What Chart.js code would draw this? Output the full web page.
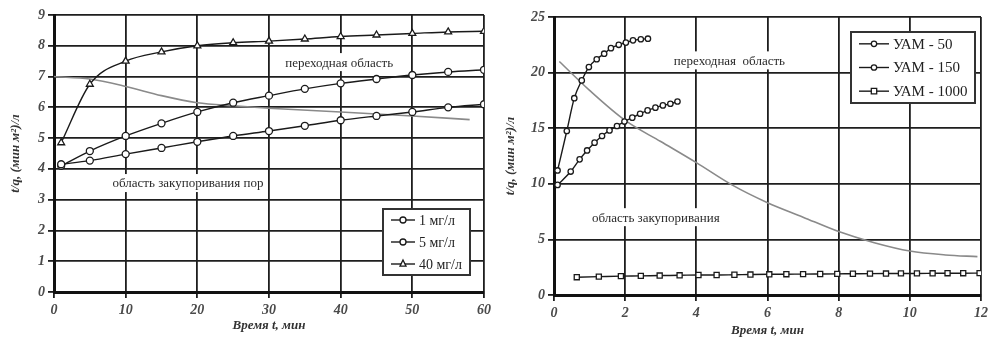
<!DOCTYPE html>
<html>
<head>
<meta charset="utf-8">
<script src="https://cdn.jsdelivr.net/npm/chart.js@4.4.0/dist/chart.umd.min.js"></script>
<style>
  html, body { margin:0; padding:0; background:#fff; }
  .wrap { position:absolute; top:0; height:338px; }
</style>
</head>
<body>
<div class="wrap" style="left:0;width:495px;"><canvas id="leftChart"></canvas></div>
<div class="wrap" style="left:495px;width:497px;"><canvas id="rightChart"></canvas></div>
<script>
// ---- left chart data (time, min) ----
const timeL = [1, 5, 10, 15, 20, 25, 30, 35, 40, 45, 50, 55, 60];
const mg1  = [4.15, 4.27, 4.48, 4.68, 4.88, 5.07, 5.23, 5.40, 5.58, 5.72, 5.85, 6.00, 6.10];
const mg5  = [4.10, 4.58, 5.07, 5.48, 5.85, 6.15, 6.38, 6.60, 6.78, 6.92, 7.05, 7.15, 7.22];
const mg40 = [4.85, 6.75, 7.50, 7.80, 8.00, 8.10, 8.15, 8.22, 8.30, 8.35, 8.40, 8.45, 8.47];
const borderTimeL = [0, 5, 10, 15, 20, 25, 30, 40, 50, 58];
const borderValL  = [7.00, 6.92, 6.68, 6.38, 6.15, 6.05, 5.97, 5.85, 5.72, 5.60];
const labelsL = ['1 мг/л', '5 мг/л', '40 мг/л'];

// ---- right chart data ----
const time50 = [0.10, 0.36, 0.57, 0.78, 0.98, 1.20, 1.41, 1.60, 1.82, 2.02, 2.22, 2.44, 2.64];
const uam50  = [11.2, 14.75, 17.7, 19.3, 20.5, 21.2, 21.7, 22.2, 22.5, 22.7, 22.9, 23.0, 23.05];
const time150 = [0.10, 0.47, 0.72, 0.93, 1.14, 1.35, 1.56, 1.77, 1.98, 2.20, 2.42, 2.63, 2.85, 3.06, 3.27, 3.47];
const uam150  = [9.9, 11.1, 12.2, 13.0, 13.7, 14.3, 14.8, 15.2, 15.6, 15.95, 16.3, 16.6, 16.85, 17.05, 17.2, 17.4];
const time1000 = [0.64, 1.26, 1.88, 2.44, 2.97, 3.53, 4.06, 4.57, 5.07, 5.52, 6.05, 6.53, 7.00, 7.48, 7.96, 8.40, 8.88, 9.33, 9.75, 10.2, 10.64, 11.06, 11.5, 11.96];
const uam1000  = [1.60, 1.65, 1.70, 1.72, 1.75, 1.77, 1.80, 1.80, 1.82, 1.84, 1.86, 1.87, 1.88, 1.89, 1.90, 1.91, 1.92, 1.93, 1.94, 1.94, 1.95, 1.96, 1.96, 1.97];
const borderTimeR = [0.15, 1, 2, 3, 4, 5, 6, 7, 8, 9, 10, 11, 11.9];
const borderValR  = [21.0, 18.4, 15.7, 13.8, 11.9, 9.9, 8.3, 7.0, 5.7, 4.7, 3.95, 3.6, 3.45];
const labelsR = ['УАМ - 50', 'УАМ - 150', 'УАМ - 1000'];

const yTitle = 't/q, (мин м²)/л';
const xTitle = 'Время t, мин';

const pts = (xs, ys) => xs.map((x, i) => ({ x: x, y: ys[i] }));
const SERIF = "'Liberation Serif', 'DejaVu Serif', serif";

function series(label, xs, ys, style, r) {
  return {
    label: label, data: pts(xs, ys),
    borderColor: '#1a1a1a', borderWidth: 1.4,
    pointStyle: style, pointRadius: r, pointBorderWidth: 1.3,
    pointBackgroundColor: '#fff', pointBorderColor: '#1a1a1a',
    cubicInterpolationMode: 'monotone'
  };
}
function boundary(xs, ys) {
  return { label: '', data: pts(xs, ys), borderColor: '#8a8a8a', borderWidth: 1.6,
    pointRadius: 0, cubicInterpolationMode: 'monotone' };
}

function drawMarker(ctx, style, x, y, r) {
  ctx.beginPath();
  if (style === 'circle') ctx.arc(x, y, r, 0, Math.PI * 2);
  else if (style === 'rect') ctx.rect(x - r, y - r, r * 2, r * 2);
  else { ctx.moveTo(x, y - r - 1); ctx.lineTo(x + r, y + r * 0.7); ctx.lineTo(x - r, y + r * 0.7); ctx.closePath(); }
  ctx.fillStyle = '#fff'; ctx.fill();
  ctx.lineWidth = 1.3; ctx.strokeStyle = '#1a1a1a'; ctx.stroke();
}

// text boxes placed in data coordinates, drawn over grid but under the lines
const notesPlugin = {
  id: 'notes',
  beforeDatasetsDraw(chart) {
    const notes = chart.options.plugins.notes.items;
    const ctx = chart.ctx;
    ctx.save();
    ctx.font = '13px ' + SERIF;
    ctx.textAlign = 'center'; ctx.textBaseline = 'middle';
    notes.forEach(n => {
      const x = chart.scales.x.getPixelForValue(n.x);
      const y = chart.scales.y.getPixelForValue(n.y);
      const w = ctx.measureText(n.text).width;
      ctx.fillStyle = '#fff';
      ctx.fillRect(x - w / 2 - 4, y - 9, w + 8, 18);
      ctx.fillStyle = '#2a2a2a';
      ctx.fillText(n.text, x, y + 1);
    });
    ctx.restore();
  }
};

const boxLegend = {
  id: 'boxLegend',
  afterDraw(chart) {
    const o = chart.options.plugins.boxLegend;
    const a = chart.chartArea, ctx = chart.ctx;
    const bx = o.fromRight ? a.right - o.dx - o.w : a.left + o.dx;
    const by = o.fromBottom ? a.bottom - o.dy - o.h : a.top + o.dy;
    ctx.save();
    ctx.fillStyle = '#fff';
    ctx.fillRect(bx, by, o.w, o.h);
    ctx.lineWidth = 2; ctx.strokeStyle = '#333';
    ctx.strokeRect(bx, by, o.w, o.h);
    ctx.font = o.fontSize + 'px ' + SERIF;
    ctx.textBaseline = 'middle'; ctx.textAlign = 'left';
    o.labels.forEach((t, i) => {
      const y = by + o.h * (i + 0.5) / o.labels.length;
      ctx.beginPath();
      ctx.moveTo(bx + 8, y); ctx.lineTo(bx + 8 + o.line, y);
      ctx.lineWidth = 1.4; ctx.strokeStyle = '#1a1a1a'; ctx.stroke();
      drawMarker(ctx, o.styles[i], bx + 8 + o.line / 2, y, o.r);
      ctx.fillStyle = '#222';
      ctx.fillText(t, bx + 12 + o.line, y + 1);
    });
    ctx.restore();
  }
};

function axes(xmax, xstep, ymax, ystep, yw, xh, xTitlePad) {
  const tickFont = { family: SERIF, size: 14, style: 'italic', weight: 'bold' };
  const titleFont = { family: SERIF, size: 13, style: 'italic', weight: 'bold' };
  return {
    x: {
      type: 'linear', min: 0, max: xmax,
      ticks: { stepSize: xstep, color: '#4a4a4a', font: tickFont, padding: 4, maxRotation: 0 },
      grid: { color: '#1e1e1e', lineWidth: 1.8, tickLength: 6 },
      border: { color: '#111', width: 3 },
      title: { display: true, text: xTitle, color: '#333', font: titleFont, padding: { top: 0, bottom: xTitlePad } },
      afterFit: s => { s.height = xh; }
    },
    y: {
      min: 0, max: ymax,
      ticks: { stepSize: ystep, color: '#4a4a4a', font: tickFont, padding: 3 },
      grid: { color: '#1e1e1e', lineWidth: 1.8, tickLength: 6 },
      border: { color: '#111', width: 3 },
      title: { display: true, text: yTitle, color: '#333', font: titleFont, padding: { top: 8, bottom: 0 } },
      afterFit: s => { s.width = yw; }
    }
  };
}

new Chart(document.getElementById('leftChart'), {
  type: 'line',
  data: {
    datasets: [
      series(labelsL[0], timeL, mg1, 'circle', 3.5),
      series(labelsL[1], timeL, mg5, 'circle', 3.5),
      series(labelsL[2], timeL, mg40, 'triangle', 4),
      boundary(borderTimeL, borderValL)
    ]
  },
  options: {
    responsive: true, maintainAspectRatio: false, animation: false,
    layout: { padding: { left: 0, right: 10, top: 15, bottom: 0 } },
    scales: axes(60, 10, 9, 1, 54, 46, 5),
    plugins: {
      legend: { display: false }, tooltip: { enabled: false },
      notes: { items: [
        { text: 'переходная область', x: 39.8, y: 7.47 },
        { text: 'область закупоривания пор', x: 18.7, y: 3.54 }
      ] },
      boxLegend: { labels: labelsL, styles: ['circle', 'circle', 'triangle'], fromRight: true, fromBottom: true,
        dx: 14, dy: 17, w: 87, h: 66, line: 24, r: 3, fontSize: 14 }
    }
  },
  plugins: [notesPlugin, boxLegend]
});

new Chart(document.getElementById('rightChart'), {
  type: 'line',
  data: {
    datasets: [
      series(labelsR[0], time50, uam50, 'circle', 2.7),
      series(labelsR[1], time150, uam150, 'circle', 2.7),
      series(labelsR[2], time1000, uam1000, 'rect', 3.6),
      boundary(borderTimeR, borderValR)
    ]
  },
  options: {
    responsive: true, maintainAspectRatio: false, animation: false,
    layout: { padding: { left: 0, right: 10, top: 17, bottom: 0 } },
    scales: axes(12, 2, 25, 5, 59, 43, 0),
    plugins: {
      legend: { display: false }, tooltip: { enabled: false },
      notes: { items: [
        { text: 'переходная  область', x: 4.93, y: 21.1 },
        { text: 'область закупоривания', x: 2.86, y: 7.0 }
      ] },
      boxLegend: { labels: labelsR, styles: ['circle', 'circle', 'rect'], fromRight: true, fromBottom: false,
        dx: 6, dy: 15, w: 124, h: 71, line: 30, r: 2.7, fontSize: 15 }
    }
  },
  plugins: [notesPlugin, boxLegend]
});
</script>
</body>
</html>
